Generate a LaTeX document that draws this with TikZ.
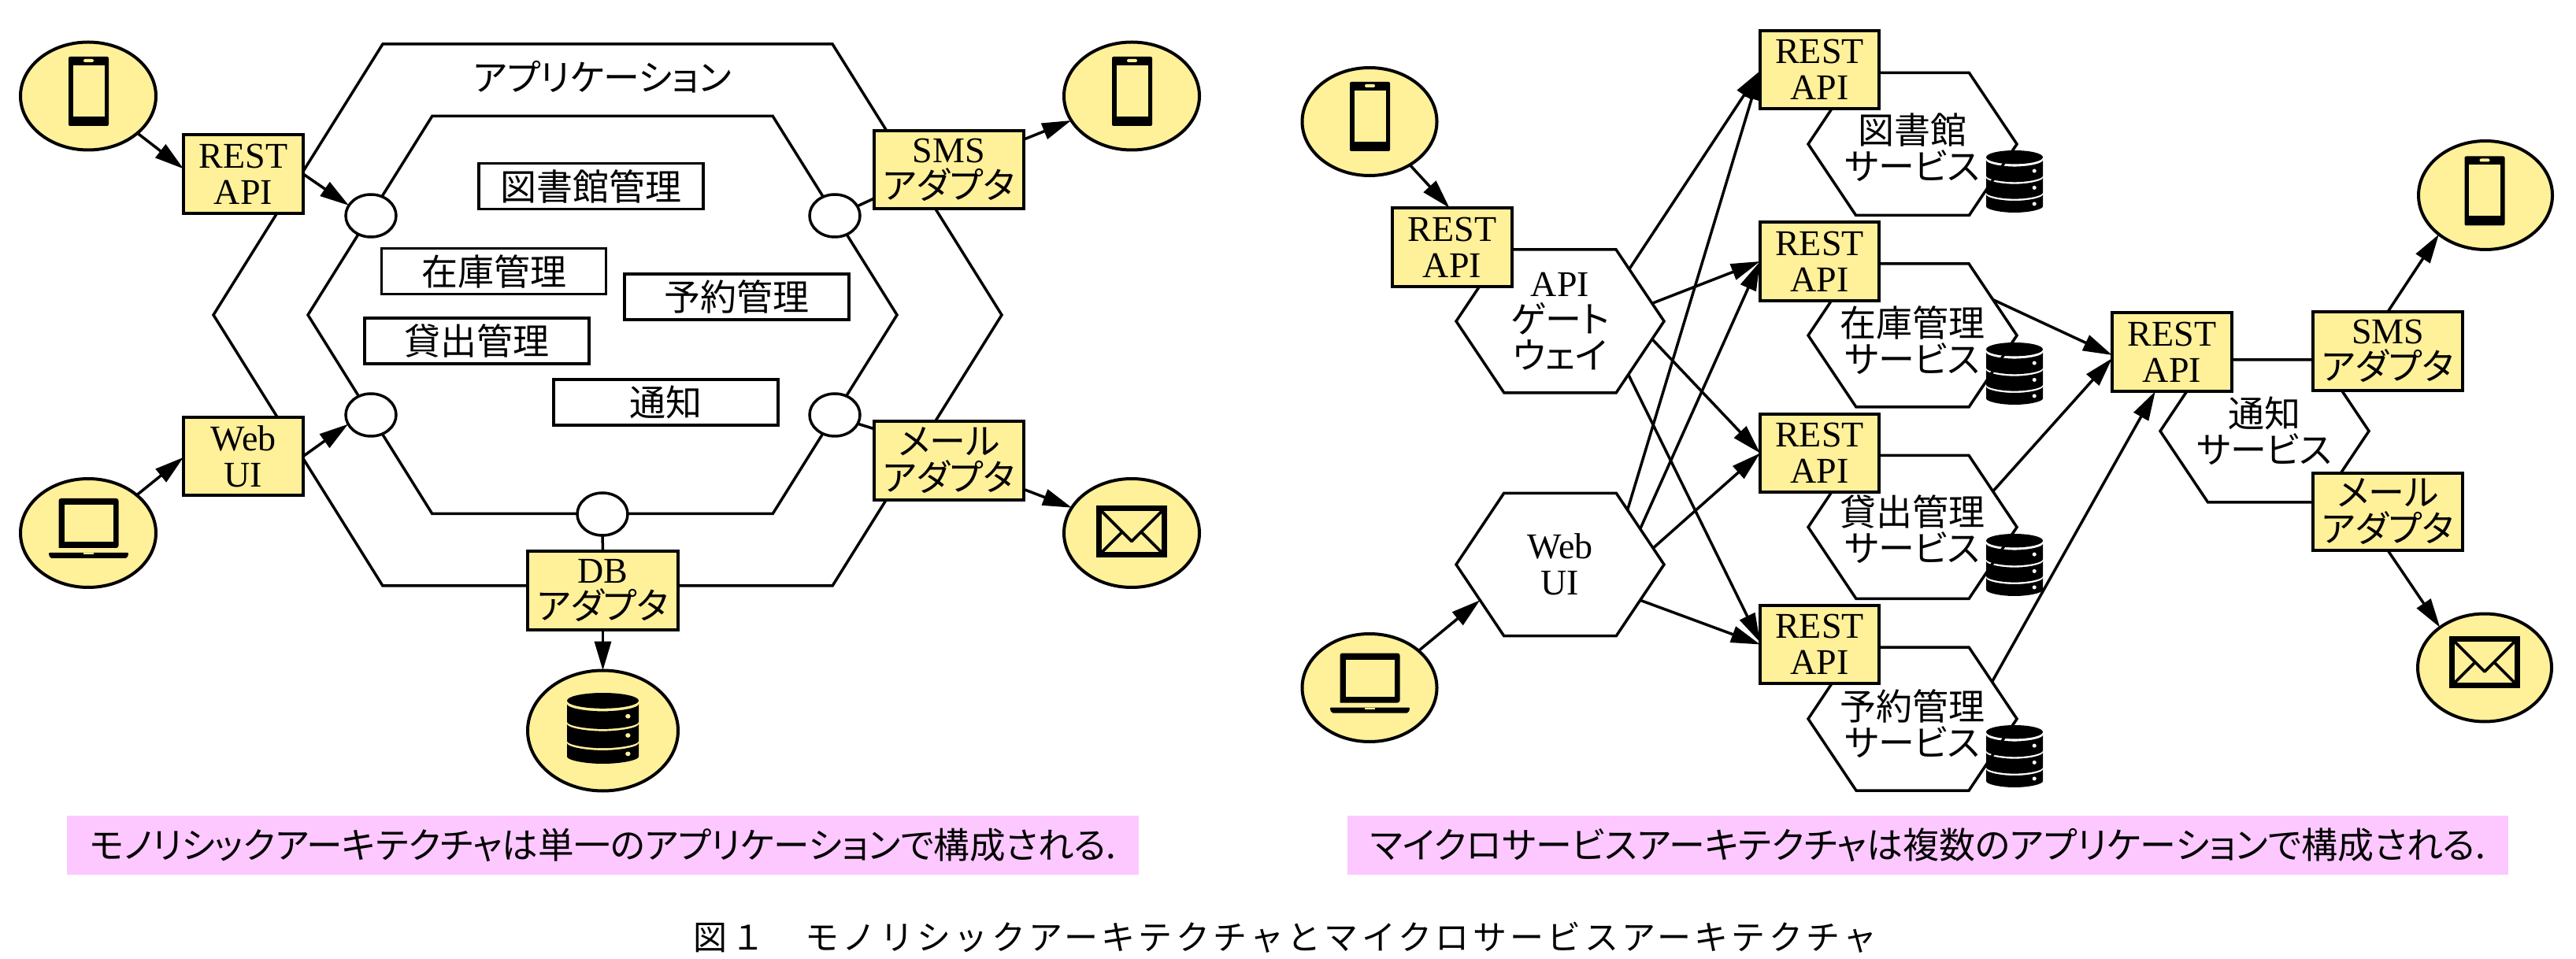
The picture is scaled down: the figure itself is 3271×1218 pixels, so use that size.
\documentclass[tikz,border=0pt]{standalone}
\usepackage{fontspec}
\usetikzlibrary{arrows.meta,shapes.geometric,shapes.symbols}
\setmainfont{Liberation Serif}
\newfontfamily\jp[RawFeature=+palt]{Noto Sans CJK JP}
\newfontfamily\jpcap[LetterSpace=10]{Noto Sans CJK JP}
\newcommand\jt[1]{{\jp #1}}
\definecolor{ylw}{HTML}{FFF09A}
\definecolor{pnk}{HTML}{FCC8FF}
\lineskiplimit=-100pt
\newcommand\phoneicon[2]{%
 \begin{scope}[shift={(#1,#2)}]
 \fill[black,rounded corners=1pt] (-25.5,-44) rectangle (25.5,44);
 \fill[ylw] (-20,-33) rectangle (20,32);
 \fill[ylw,rounded corners=1pt] (-6.5,-41) rectangle (6.5,-37);
 \end{scope}}
\newcommand\laptopicon[2]{%
 \begin{scope}[shift={(#1,#2)}]
 \fill[black,rounded corners=1.5pt] (-38,19) -- (-38,-44) -- (38,-44) -- (38,19) [sharp corners] -- cycle;
 \fill[ylw] (-31,-36) rectangle (31,11);
 \fill[black,rounded corners=1pt] (-51,25) -- (51,25) -- (49,32) -- (-49,32) -- cycle;
 \fill[ylw] (-6.5,25) rectangle (6.5,27.5);
 \end{scope}}
\newcommand\envicon[2]{%
 \begin{scope}[shift={(#1,#2)}]
 \fill[black] (-45,-33) rectangle (45,33);
 \fill[ylw] (-38,-26) rectangle (38,26);
 \draw[line width=1.8pt,line join=round] (-38,-26) -- (0,12) -- (38,-26);
 \draw[line width=1.8pt] (-38,26) -- (-12,0);
 \draw[line width=1.8pt] (38,26) -- (12,0);
 \end{scope}}
\newcommand\dbband[2]{%
 \fill[black] (-.5,#1) .. controls (-.5,#1+.05) and (-.25,#1+.1) .. (0,#1+.1)
   .. controls (.25,#1+.1) and (.5,#1+.05) .. (.5,#1) -- (.5,#2)
   .. controls (.5,#2+.05) and (.25,#2+.1) .. (0,#2+.1)
   .. controls (-.25,#2+.1) and (-.5,#2+.05) .. (-.5,#2) -- cycle;}
\newcommand\dbicon[5]{%
 \begin{scope}[shift={(#1,#2)},xscale=#3,yscale=#4]
 \fill[black] (0,.11) ellipse [x radius=.5,y radius=.11];
 \dbband{.16}{.41}
 \dbband{.44}{.68}
 \dbband{.71}{.90}
 \fill[#5] (.35,.33) ellipse [x radius=.035,y radius=.032];
 \fill[#5] (.35,.60) ellipse [x radius=.035,y radius=.032];
 \fill[#5] (.35,.86) ellipse [x radius=.035,y radius=.032];
 \end{scope}}
\newcommand\svc[3]{\hbox to 0pt{\hss\vbox{\kern#3\baselineskip=23pt\halign{\hfil##\hfil\cr\jt{#1}\cr\jt{#2}\cr}}\hss}}
\tikzset{
 txt/.style={font=\fontsize{23}{23}\selectfont,align=center,inner sep=0pt,outer sep=0pt},
 sz/.style 2 args={minimum width=#1*0.5pt,minimum height=#2*0.5pt},
 hexn/.style n args={3}{txt,shape=signal,signal to=east and west,signal pointer angle=#3,sz={#1}{#2},draw,line width=1.75pt,line join=miter},
 ybox/.style 2 args={txt,rectangle,draw,fill=ylw,line width=2pt,sz={#1}{#2}},
 yell/.style 2 args={txt,ellipse,draw,fill=ylw,line width=2pt,sz={#1}{#2}},
 port/.style={ellipse,draw,fill=white,line width=1.75pt,inner sep=0pt,outer sep=0pt,sz={64}{54}},
 modl/.style={txt,rectangle,draw,line width=1.75pt,sz={285}{58}},
 banner/.style={txt,rectangle,fill=pnk},
 conn/.style={line width=1.75pt},
 arr/.style={line width=1.75pt,-{Triangle[length=18.5pt,width=10.5pt]}},
}
\begin{document}
\begin{tikzpicture}[x=.5pt,y=-.5pt]
\useasboundingbox (0,0) rectangle (3271,1218);
% ---------- left: monolith
\node[hexn={1001}{688}{116}] (outerhex) at (771.5,400) {};
\node[hexn={748}{505}{116}] (innerhex) at (765,400) {};
\node[txt] (appname) at (765,98) {\jt{アプリケーション}};
\node[modl] (m1) at (750.5,236.5) {\jt{図書館管理}};
\node[modl] (m2) at (627,344.5) {\jt{在庫管理}};
\node[modl] (m3) at (935.5,377) {\jt{予約管理}};
\node[modl] (m4) at (605.5,433) {\jt{貸出管理}};
\node[modl] (m5) at (845.5,511) {\jt{通知}};
\node[port] (pL1) at (471,274) {};
\node[port] (pL2) at (471,527) {};
\node[port] (pR1) at (1060,274) {};
\node[port] (pR2) at (1060,527) {};
\node[port] (pB) at (765,653) {};
\node[ybox={152}{100}] (restL) at (309,221) {REST\\API};
\node[ybox={152}{99}] (webL) at (309,579.5) {Web\\UI};
\node[ybox={190}{99}] (smsL) at (1205,215.5) {SMS\\\jt{アダプタ}};
\node[ybox={190}{100}] (mailL) at (1205,585) {\jt{メール}\\\jt{アダプタ}};
\node[ybox={191}{100}] (dbL) at (765.5,750) {DB\\\jt{アダプタ}};
\node[yell={172}{137}] (phoneL) at (112,122) {};
\node[yell={172}{138}] (laptopL) at (112,677) {};
\node[yell={172}{137}] (phoneLR) at (1437,122) {};
\node[yell={172}{138}] (envL) at (1437,677) {};
\node[yell={191}{153}] (dbC) at (765.5,928) {};
\phoneicon{112.5}{116}
\phoneicon{1437.5}{116}
\laptopicon{112.5}{677}
\envicon{1437}{675.5}
\dbicon{765.5}{880}{91}{90}{ylw}
\draw[arr] (phoneL.-37.4) -- (restL.175.5);
\draw[arr] (restL.0) -- (pL1.155.7);
\draw[arr] (laptopL.38.3) -- (webL.181.9);
\draw[arr] (webL.0) -- (pL2.202.8);
\draw[conn] (pR1.23.4) -- (smsL.201.5);
\draw[conn] (pR2.-21.8) -- (mailL.157.7);
\draw[arr] (smsL.22) -- (phoneLR.202.3);
\draw[arr] (mailL.-21.3) -- (envL.157.7);
\draw[conn] (pB.south) -- (dbL.north);
\draw[arr] (dbL.south) -- (dbC.north);
% ---------- right: microservices
\node[hexn={264}{182}{112.4}] (apiH) at (1981,408) {API\\\jt{ゲート}\\\jt{ウェイ}};
\node[hexn={264}{181}{112.4}] (webH) at (1981,717) {Web\\UI};
\node[hexn={265}{181}{112.4}] (s1) at (2428.5,183) {\svc{図書館}{サービス}{4.5pt}};
\node[hexn={265}{182}{112.4}] (s2) at (2428.5,426) {\svc{在庫管理}{サービス}{6pt}};
\node[hexn={265}{182}{112.4}] (s3) at (2428.5,669.5) {\svc{貸出管理}{サービス}{3pt}};
\node[hexn={265}{182}{112.4}] (s4) at (2428.5,913) {\svc{予約管理}{サービス}{6pt}};
\node[hexn={265}{181}{112.4}] (s5) at (2875.5,547.5) {\svc{通知}{サービス}{0pt}};
\dbicon{2558}{191}{72}{79}{white}
\dbicon{2558}{435}{72}{79}{white}
\dbicon{2558}{678}{72}{79}{white}
\dbicon{2558}{921}{72}{79}{white}
\node[ybox={152}{100}] (rest0) at (1844,314) {REST\\API};
\node[ybox={151}{99}] (r1) at (2310.5,88.5) {REST\\API};
\node[ybox={151}{100}] (r2) at (2310.5,332) {REST\\API};
\node[ybox={151}{99}] (r3) at (2310.5,575.5) {REST\\API};
\node[ybox={151}{99}] (r4) at (2310.5,818.5) {REST\\API};
\node[ybox={152}{100}] (rr) at (2758,447) {REST\\API};
\node[ybox={190}{100}] (smsR) at (3032,446) {SMS\\\jt{アダプタ}};
\node[ybox={190}{98}] (mailR) at (3032,650) {\jt{メール}\\\jt{アダプタ}};
\node[yell={171}{137}] (phoneA) at (1739,154.5) {};
\node[yell={171}{137}] (laptopA) at (1739,873.5) {};
\node[yell={170}{138}] (phoneB) at (3156,248) {};
\node[yell={170}{137}] (envB) at (3155,848) {};
\phoneicon{1739.5}{148}
\phoneicon{3155}{242.5}
\laptopicon{1739.5}{873.5}
\envicon{3155}{841}
\draw[arr] (phoneA.-47.4) -- (rest0.94.6);
\draw[arr] (laptopA.37.2) -- (webH.204.8);
\draw[arr] (apiH.37.8) -- (r1.181.9);
\draw[arr] (webH.39.1) -- (r1.181.9);
\draw[arr] (apiH.11.4) -- (r2.180.8);
\draw[arr] (webH.24.3) -- (r2.180.8);
\draw[arr] (apiH.-11.4) -- (r3.180);
\draw[arr] (webH.10.9) -- (r3.180);
\draw[arr] (apiH.-38.3) -- (r4.178.1);
\draw[arr] (webH.-24.3) -- (r4.180);
\draw[arr] (s2.24.2) -- (rr.183.8);
\draw[arr] (s3.24.4) -- (rr.186);
\draw[arr] (s4.25.1) -- (rr.247.2);
\draw[arr] (smsR.north) -- (phoneB.220.9);
\draw[arr] (mailR.south) -- (envB.138.6);
% ---------- captions
\node[banner,sz={1361}{75},font=\fontsize{22.8}{23}\selectfont] (capL) at (765.5,1073.5) {\jt{モノリシックアーキテクチャは単一のアプリケーションで構成される.}};
\node[banner,sz={1474}{75}] (capR) at (2448,1073.5) {\jt{マイクロサービスアーキテクチャは複数のアプリケーションで構成される.}};
\node[txt,font=\fontsize{21.5}{21.5}\selectfont] (fig) at (1632,1191) {\jpcap 図１　モノリシックアーキテクチャとマイクロサービスアーキテクチャ};
\end{tikzpicture}
\end{document}
